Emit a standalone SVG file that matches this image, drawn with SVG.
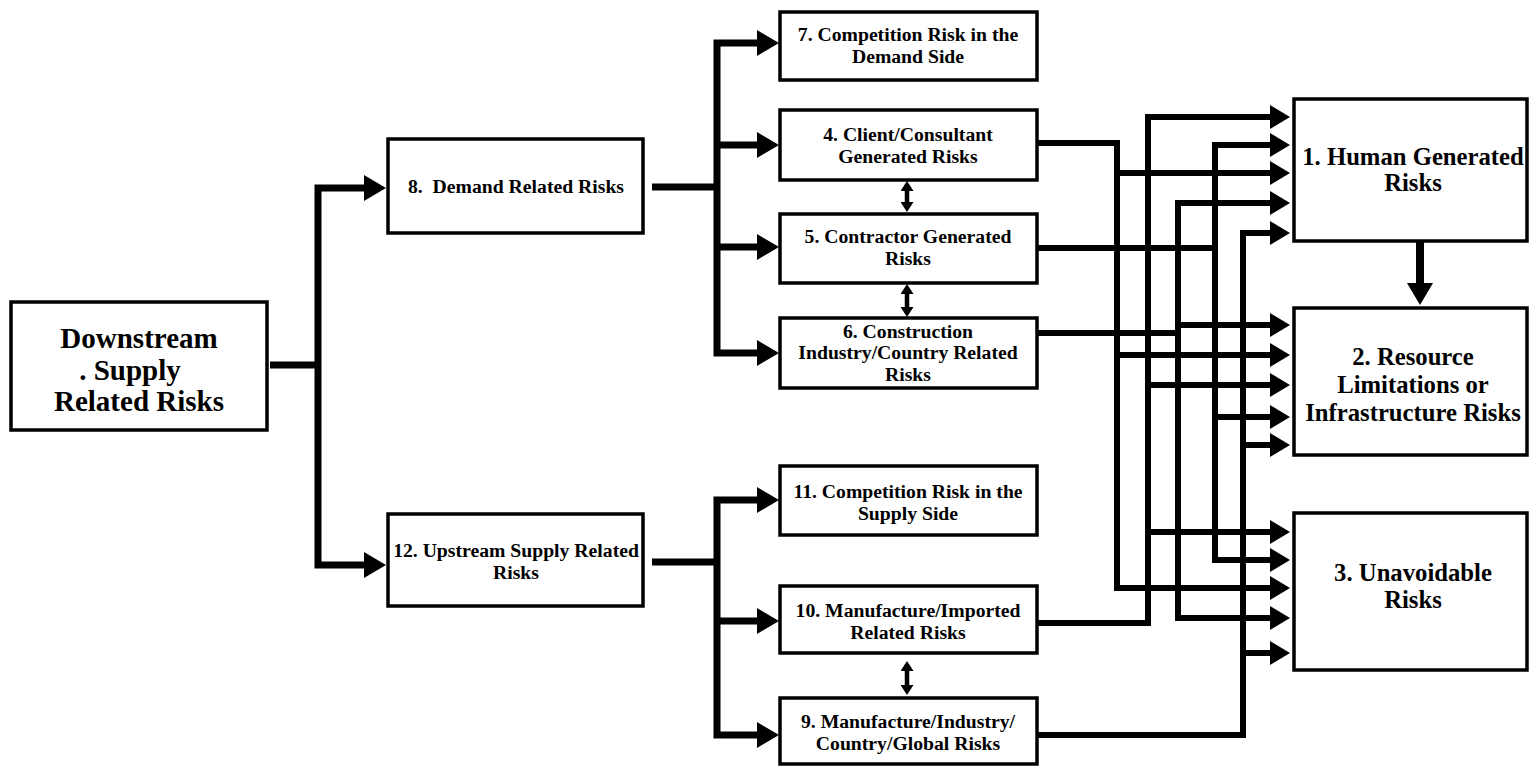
<svg xmlns="http://www.w3.org/2000/svg" width="1531" height="766" viewBox="0 0 1531 766">
  <style>
    .box { fill: #fff; stroke: #000; stroke-width: 3.5; }
    .lbl { font-family: "Liberation Serif", "Times New Roman", serif; font-weight: bold; fill: #000; text-anchor: middle; }
    .s19 { font-size: 19.7px; }
    .s24 { font-size: 24.7px; }
    .s29 { font-size: 29px; }
    .wire { fill: none; stroke: #000; stroke-width: 7; stroke-linejoin: miter; }
    .thin { fill: none; stroke: #000; stroke-width: 6; stroke-linejoin: miter; }
    .dbl { fill: none; stroke: #000; stroke-width: 4.5; }
  </style>
  <defs>
    <marker id="big" markerUnits="userSpaceOnUse" markerWidth="22" markerHeight="26" refX="10" refY="13" orient="auto">
      <path d="M0,0 L22,13 L0,26 z" fill="#000"/>
    </marker>
    <marker id="mid" markerUnits="userSpaceOnUse" markerWidth="20" markerHeight="24" refX="10" refY="12" orient="auto">
      <path d="M0,0 L20,12 L0,24 z" fill="#000"/>
    </marker>
    <marker id="sm" markerUnits="userSpaceOnUse" markerWidth="10" markerHeight="13" refX="4" refY="6.5" orient="auto-start-reverse">
      <path d="M0,0 L10,6.5 L0,13 z" fill="#000"/>
    </marker>
  </defs>

  <!-- connectors -->
  <g id="connectors">
    <!-- root split -->
    <path class="wire" d="M270,365 H318"/>
    <path class="wire" d="M318,365 V188 H374" marker-end="url(#big)"/>
    <path class="wire" d="M318,365 V565 H374" marker-end="url(#big)"/>

    <!-- demand side -->
    <path class="wire" d="M652,187 H717"/>
    <path class="wire" d="M717,187 V43 H767" marker-end="url(#big)"/>
    <path class="wire" d="M717,145 H767" marker-end="url(#big)"/>
    <path class="wire" d="M717,247 H767" marker-end="url(#big)"/>
    <path class="wire" d="M717,187 V353 H767" marker-end="url(#big)"/>

    <!-- supply side -->
    <path class="wire" d="M652,562 H717"/>
    <path class="wire" d="M717,562 V500 H767" marker-end="url(#big)"/>
    <path class="wire" d="M717,621 H767" marker-end="url(#big)"/>
    <path class="wire" d="M717,562 V735 H767" marker-end="url(#big)"/>

    <!-- two-way links -->
    <path class="dbl" d="M907,187 V206" marker-start="url(#sm)" marker-end="url(#sm)"/>
    <path class="dbl" d="M907,290 V311" marker-start="url(#sm)" marker-end="url(#sm)"/>
    <path class="dbl" d="M907,667 V689" marker-start="url(#sm)" marker-end="url(#sm)"/>

    <!-- 4 -> bus 1117 -->
    <path class="thin" d="M1037,143 H1117 V588 H1280" marker-end="url(#mid)"/>
    <path class="thin" d="M1117,173 H1280" marker-end="url(#mid)"/>
    <path class="thin" d="M1117,355 H1280" marker-end="url(#mid)"/>
    <!-- 10 -> bus 1148 -->
    <path class="thin" d="M1037,623 H1148 V117 H1280" marker-end="url(#mid)"/>
    <path class="thin" d="M1148,385 H1280" marker-end="url(#mid)"/>
    <path class="thin" d="M1148,532 H1280" marker-end="url(#mid)"/>
    <!-- 6 -> bus 1178 -->
    <path class="thin" d="M1037,333 H1178 V203 H1280" marker-end="url(#mid)"/>
    <path class="thin" d="M1178,325 H1280" marker-end="url(#mid)"/>
    <path class="thin" d="M1178,333 V618 H1280" marker-end="url(#mid)"/>
    <!-- 5 -> bus 1215 -->
    <path class="thin" d="M1037,248 H1215 V145 H1280" marker-end="url(#mid)"/>
    <path class="thin" d="M1215,417 H1280" marker-end="url(#mid)"/>
    <path class="thin" d="M1215,248 V560 H1280" marker-end="url(#mid)"/>
    <!-- 9 -> bus 1243 -->
    <path class="thin" d="M1037,735 H1243 V233 H1280" marker-end="url(#mid)"/>
    <path class="thin" d="M1243,445 H1280" marker-end="url(#mid)"/>
    <path class="thin" d="M1243,653 H1280" marker-end="url(#mid)"/>

    <!-- 1 -> 2 -->
    <path d="M1420,242 V285" stroke="#000" stroke-width="8" fill="none"/>
    <path d="M1407,283 L1433,283 L1420,305 z" fill="#000"/>
  </g>

  <!-- nodes -->
  <g id="node-downstream">
    <rect class="box" x="11" y="302" width="256" height="128"/>
    <text class="lbl s29" x="139" y="348">Downstream</text>
    <text class="lbl s29" x="130" y="380">. Supply</text>
    <text class="lbl s29" x="139" y="411">Related Risks</text>
  </g>
  <g id="node-8">
    <rect class="box" x="388" y="139" width="255" height="94"/>
    <text class="lbl s19" x="516" y="193" xml:space="preserve">8.  Demand Related Risks</text>
  </g>
  <g id="node-12">
    <rect class="box" x="388" y="514" width="255" height="92"/>
    <text class="lbl s19" x="516" y="557">12. Upstream Supply Related</text>
    <text class="lbl s19" x="516" y="579">Risks</text>
  </g>
  <g id="node-7">
    <rect class="box" x="780" y="12" width="257" height="68"/>
    <text class="lbl s19" x="908" y="41">7. Competition Risk in the</text>
    <text class="lbl s19" x="908" y="63">Demand Side</text>
  </g>
  <g id="node-4">
    <rect class="box" x="780" y="110" width="257" height="70"/>
    <text class="lbl s19" x="908" y="141">4. Client/Consultant</text>
    <text class="lbl s19" x="908" y="163">Generated Risks</text>
  </g>
  <g id="node-5">
    <rect class="box" x="780" y="214" width="257" height="69"/>
    <text class="lbl s19" x="908" y="243">5. Contractor Generated</text>
    <text class="lbl s19" x="908" y="265">Risks</text>
  </g>
  <g id="node-6">
    <rect class="box" x="780" y="318" width="257" height="70"/>
    <text class="lbl s19" x="908" y="338">6. Construction</text>
    <text class="lbl s19" x="908" y="359">Industry/Country Related</text>
    <text class="lbl s19" x="908" y="381">Risks</text>
  </g>
  <g id="node-11">
    <rect class="box" x="780" y="466" width="257" height="69"/>
    <text class="lbl s19" x="908" y="498">11. Competition Risk in the</text>
    <text class="lbl s19" x="908" y="520">Supply Side</text>
  </g>
  <g id="node-10">
    <rect class="box" x="780" y="586" width="257" height="67"/>
    <text class="lbl s19" x="908" y="617">10. Manufacture/Imported</text>
    <text class="lbl s19" x="908" y="639">Related Risks</text>
  </g>
  <g id="node-9">
    <rect class="box" x="780" y="698" width="257" height="66"/>
    <text class="lbl s19" x="908" y="728">9. Manufacture/Industry/</text>
    <text class="lbl s19" x="908" y="750">Country/Global Risks</text>
  </g>
  <g id="node-1">
    <rect class="box" x="1294" y="99" width="233" height="142"/>
    <text class="lbl s24" x="1413" y="165">1. Human Generated</text>
    <text class="lbl s24" x="1413" y="191">Risks</text>
  </g>
  <g id="node-2">
    <rect class="box" x="1294" y="308" width="233" height="147"/>
    <text class="lbl s24" x="1413" y="365">2. Resource</text>
    <text class="lbl s24" x="1413" y="393">Limitations or</text>
    <text class="lbl s24" x="1413" y="421">Infrastructure Risks</text>
  </g>
  <g id="node-3">
    <rect class="box" x="1294" y="513" width="233" height="157"/>
    <text class="lbl s24" x="1413" y="581">3. Unavoidable</text>
    <text class="lbl s24" x="1413" y="608">Risks</text>
  </g>
</svg>
